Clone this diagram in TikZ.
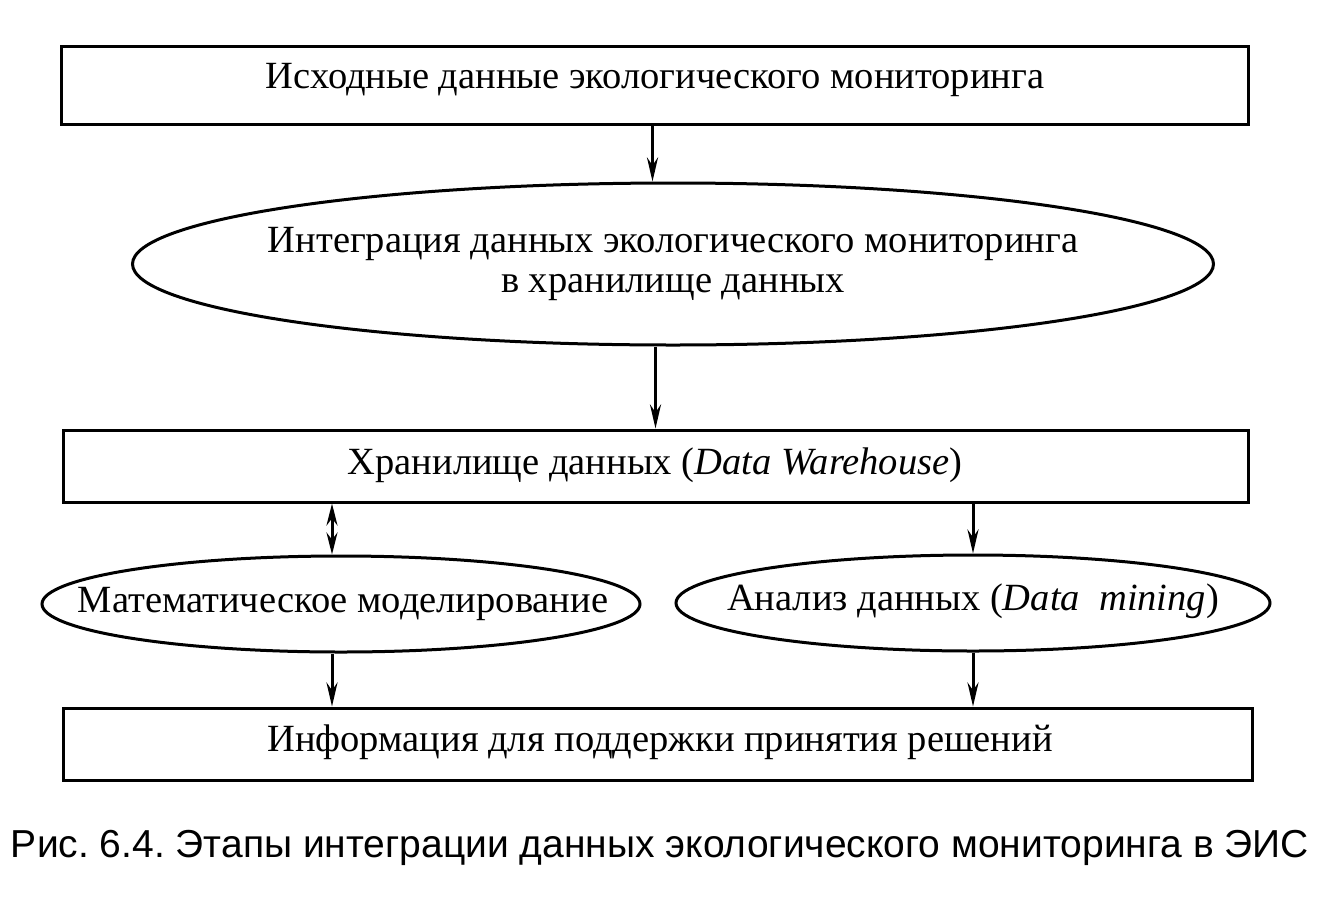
\documentclass[tikz,border=0pt]{standalone}
\usepackage{fontspec}
\setmainfont{Liberation Serif}
\newfontfamily\capfont{Liberation Sans}
\usetikzlibrary{shapes.geometric,arrows.meta,calc}
\frenchspacing
\begin{document}
\begin{tikzpicture}[x=1pt,y=-1pt,
  box/.style={draw,line width=3pt,rectangle,inner sep=0pt},
  ell/.style={draw,line width=3pt,ellipse,inner sep=0pt},
  lbl/.style={font=\fontsize{38.5}{40}\selectfont,align=center,inner sep=0pt},
  arr/.style={line width=3pt,-{Stealth[length=24pt,width=11pt]}},
  darr/.style={line width=3pt,{Stealth[length=22pt,width=11pt]}-{Stealth[length=22pt,width=11pt]}}]
\useasboundingbox (0,0) rectangle (1328,919);
\node[box,minimum width=1187pt,minimum height=78pt] (b1) at (654.5,85) {};
\node[lbl] (t1) at (655,80) {Исходные данные экологического мониторинга};
\node[ell,minimum width=1081pt,minimum height=162pt] (e1) at (673,264) {};
\node[lbl] (t2) at (673,264) {Интеграция данных экологического мониторинга\\в хранилище данных};
\node[box,minimum width=1185pt,minimum height=72pt] (b2) at (655.5,466) {};
\node[lbl] (t3) at (655,465) {Хранилище данных (\textit{Data Warehouse})};
\node[ell,minimum width=598pt,minimum height=96pt] (eL) at (341,604) {};
\node[lbl] (t4) at (343,604) {Математическое моделирование};
\node[ell,minimum width=594pt,minimum height=96pt] (eR) at (973,603) {};
\node[lbl] (t5) at (973,601) {Анализ данных (\textit{Data\ \ mining})};
\node[box,minimum width=1189pt,minimum height=72pt] (b3) at (657.5,744) {};
\node[lbl] (t6) at (660,742) {Информация для поддержки принятия решений};
\node[font=\capfont\fontsize{39}{44}\selectfont,inner sep=0pt] (cap) at (660,848) {Рис. 6.4. Этапы интеграции данных экологического мониторинга в ЭИС};
\coordinate (lx) at ($(eL.north)+(-9,0)$);
\coordinate (lxs) at ($(eL.south)+(-9,0)$);
\draw[arr] ($(b1.south)+(-2,0)$) -- ($(b1.south |- e1.north)+(-2,0)$);
\draw[arr] (b2.north |- e1.south) -- (b2.north);
\draw[darr] (lx |- b2.south) -- (lx);
\draw[arr] (eR.north |- b2.south) -- (eR.north);
\draw[arr] (lxs) -- (lxs |- b3.north);
\draw[arr] (eR.south) -- (eR.south |- b3.north);
\end{tikzpicture}
\end{document}
